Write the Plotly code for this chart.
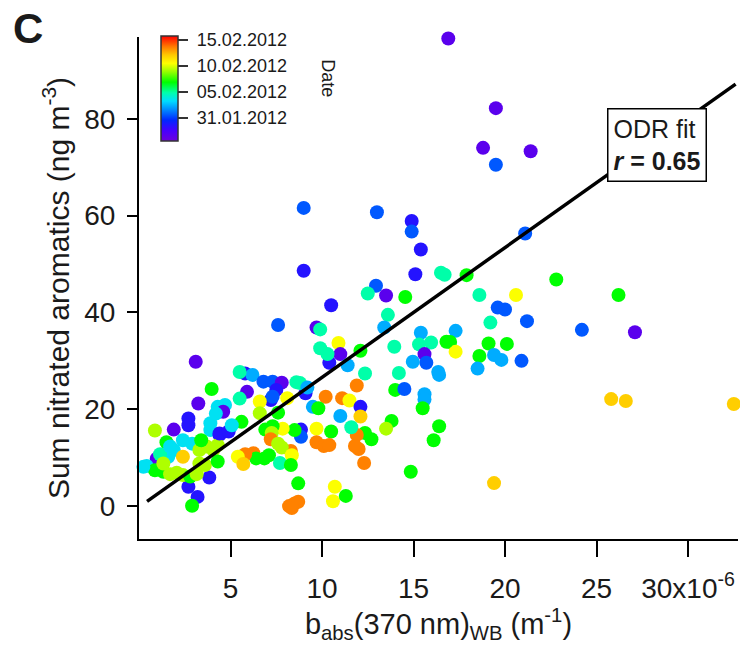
import plotly.graph_objects as go

# ---- data (x in 1e-6 m^-1, y in ng m^-3, date = days since 31.01.2012)
P, DB, B, S, C, T, G, YG, Y, GD, O = -3.4, -1.4, 0.6, 2.3, 3.5, 4.9, 6.9, 9.3, 10.5, 12.0, 13.6

points = [
    (19.5, 82.2, P), (18.8, 74.0, P), (21.4, 73.3, P), (19.5, 70.5, B), (21.1, 56.3, B),
    (17.9, 47.7, G), (22.8, 46.8, G), (18.6, 43.6, T), (20.6, 43.6, Y), (26.2, 43.6, G),
    (19.6, 41.0, B), (20.0, 40.6, B), (19.2, 37.9, T), (21.2, 38.2, B), (17.3, 36.2, S),
    (24.2, 36.4, B), (27.1, 35.9, P), (17.0, 33.9, G), (19.1, 33.6, G), (20.1, 33.5, G),
    (17.3, 31.9, Y), (18.6, 31.0, G), (19.4, 31.2, S), (19.8, 30.2, S), (20.9, 30.0, B),
    (18.5, 28.4, S), (25.8, 22.1, GD), (26.6, 21.7, GD), (32.5, 21.1, GD), (16.9, 96.6, P),
    (9.0, 61.6, B), (13.0, 60.7, B), (14.9, 58.9, DB), (14.9, 56.7, B), (15.4, 53.0, DB),
    (9.0, 48.6, DB), (15.1, 47.9, DB), (16.5, 48.2, T), (16.7, 47.8, T), (12.95, 45.5, B),
    (12.5, 43.9, T), (13.5, 43.5, P), (14.55, 43.2, G), (10.5, 41.5, DB), (13.6, 39.5, T),
    (9.7, 36.9, P), (9.9, 36.5, T), (13.4, 36.9, S), (15.4, 35.8, S), (9.9, 32.6, T),
    (10.9, 33.7, Y), (11.0, 31.4, P), (10.4, 29.6, DB), (12.1, 32.1, G), (10.3, 31.4, T),
    (11.4, 29.1, S), (13.95, 32.9, T), (15.3, 33.4, T), (15.96, 33.8, T), (16.8, 33.95, G),
    (15.6, 31.4, P), (15.7, 29.6, B), (14.96, 29.8, S), (16.35, 27.7, S), (16.4, 27.1, S),
    (12.35, 27.4, T), (14.2, 27.5, T), (11.9, 24.9, O), (14.0, 24.0, G), (14.5, 24.2, B),
    (15.6, 23.1, S), (10.2, 22.6, O), (11.1, 22.3, O), (11.5, 21.8, Y), (9.1, 23.3, DB),
    (8.8, 25.4, T), (15.6, 22.0, S), (15.5, 20.2, G), (12.1, 20.5, DB), (12.1, 18.5, GD),
    (13.8, 17.6, G), (13.5, 16.0, YG), (16.4, 16.5, G), (12.35, 15.1, G), (12.7, 13.8, G),
    (11.9, 14.7, O), (12.0, 11.8, O), (16.1, 13.6, G), (12.3, 8.9, O), (14.85, 7.1, G),
    (5.8, 27.4, DB), (6.2, 27.1, S), (6.8, 25.7, B), (7.3, 25.7, B), (7.8, 25.5, P),
    (8.6, 25.6, T), (9.2, 24.5, S), (7.5, 24.0, DB), (5.9, 23.6, P), (7.2, 21.9, DB),
    (7.3, 22.6, B), (6.6, 21.6, Y), (8.1, 22.3, Y), (9.5, 20.5, S), (9.8, 20.2, G),
    (6.6, 19.2, YG), (7.6, 19.3, G), (11.0, 18.6, S), (11.6, 16.3, T), (9.7, 16.0, Y),
    (10.5, 15.4, G), (8.85, 15.8, DB), (8.85, 14.3, B), (8.5, 15.7, G), (7.85, 16.0, Y),
    (7.3, 16.5, G), (6.9, 15.8, G), (7.25, 15.1, YG), (7.2, 13.8, O), (9.7, 13.2, O),
    (10.1, 12.4, O), (10.4, 12.6, O), (11.8, 12.4, O), (8.3, 11.4, O), (6.25, 10.9, O),
    (6.85, 9.85, G), (7.1, 10.5, G), (7.8, 12.1, YG), (7.6, 12.9, YG), (8.35, 10.5, Y),
    (7.7, 8.9, T), (8.3, 8.5, G), (8.7, 4.7, G), (10.7, 4.0, Y), (10.6, 1.0, Y),
    (11.3, 2.1, G), (8.2, 0.0, O), (8.5, 0.55, O), (8.7, 0.9, O), (8.35, -0.4, O),
    (7.6, 37.4, B), (3.1, 29.8, P), (5.5, 27.7, T), (3.97, 24.2, G), (5.5, 22.2, T),
    (3.24, 21.2, P), (4.3, 20.5, C), (4.7, 20.9, C), (4.6, 19.5, P), (2.7, 18.1, DB),
    (2.7, 16.7, DB), (1.9, 15.8, P), (0.87, 15.6, YG), (1.5, 13.2, G), (3.9, 17.1, C),
    (3.9, 15.7, C), (4.2, 19.1, C), (4.4, 14.7, DB), (5.6, 17.4, G), (6.4, 9.85, G),
    (5.8, 10.7, O), (5.4, 10.2, Y), (3.84, 5.9, DB), (2.7, 4.0, DB), (3.2, 1.9, DB),
    (2.9, 0.06, G), (2.4, 13.6, C), (2.9, 12.9, C), (1.9, 11.6, C), (1.6, 10.2, C),
    (0.97, 9.8, P), (0.42, 8.3, C), (1.15, 10.7, T), (0.87, 7.4, G), (1.33, 7.1, G),
    (2.4, 10.2, GD), (1.7, 6.6, YG), (2.06, 6.9, YG), (2.4, 6.4, YG), (2.8, 6.1, G),
    (3.15, 6.6, YG), (3.3, 8.8, YG), (3.6, 8.5, YG), (3.3, 11.6, YG), (3.7, 12.3, YG),
    (4.06, 11.6, YG), (4.3, 12.6, YG), (3.4, 13.6, G), (4.4, 15.0, DB), (4.9, 15.4, DB),
    (5.07, 16.7, C), (4.3, 9.2, G), (5.7, 8.7, GD), (0.24, 8.1, C), (1.33, 8.8, YG),
    (1.7, 12.3, C), (19.4, 4.75, GD),
]
x_vals = [p[0] for p in points]
y_vals = [p[1] for p in points]
date_days = [p[2] for p in points]

fit_x = [0.44, 32.6]
fit_intercept = -0.2
fit_slope = 2.68
fit_y = [fit_intercept + fit_slope * v for v in fit_x]

x_tickvals = [5, 10, 15, 20, 25, 30]
x_ticktext = ["5", "10", "15", "20", "25", "30x10<sup>-6</sup>"]
y_tickvals = [0, 20, 40, 60, 80]
cb_tickvals = [0, 5, 10, 15]
cb_ticktext = [" 31.01.2012", " 05.02.2012", " 10.02.2012", " 15.02.2012"]

colorscale = [
    [0.0, "rgb(110,0,220)"], [0.1, "rgb(70,0,255)"], [0.2, "rgb(0,40,255)"],
    [0.3, "rgb(0,140,255)"], [0.38, "rgb(0,220,255)"], [0.46, "rgb(0,255,170)"],
    [0.56, "rgb(0,255,0)"], [0.66, "rgb(150,255,0)"], [0.74, "rgb(255,255,0)"],
    [0.82, "rgb(255,200,0)"], [0.9, "rgb(255,120,0)"], [1.0, "rgb(255,0,0)"],
]

FONT = "Liberation Sans, Arial, sans-serif"
TXT = "#1a1a1a"

fig = go.Figure()
fig.add_trace(go.Scatter(
    x=x_vals, y=y_vals, mode="markers", cliponaxis=False, showlegend=False,
    marker=dict(
        size=14, color=date_days, colorscale=colorscale, cmin=-4.4, cmax=15.8,
        line=dict(width=0),
        colorbar=dict(
            x=0.0367, xanchor="left", xpad=0, y=1.002, yanchor="top", ypad=0,
            len=105, lenmode="pixels", thickness=17, thicknessmode="pixels",
            outlinewidth=1.5, outlinecolor="#333",
            tickvals=cb_tickvals, ticktext=cb_ticktext, ticks="outside",
            ticklen=10, tickwidth=1.5, tickcolor="#333",
            tickfont=dict(family=FONT, size=18, color=TXT),
        ),
    ),
))
fig.add_trace(go.Scatter(
    x=fit_x, y=fit_y, mode="lines", showlegend=False,
    line=dict(color="black", width=3.5),
))

fig.update_xaxes(
    range=[0, 32.73], showline=True, linecolor="black", linewidth=2,
    ticks="outside", ticklen=16, tickwidth=1.5, tickcolor="black",
    tickvals=x_tickvals, ticktext=x_ticktext, showgrid=False, zeroline=False,
    tickfont=dict(family=FONT, size=28, color=TXT), ticklabelstandoff=7,
    title=dict(text="b<sub>abs</sub>(370 nm)<sub>WB</sub> (m<sup>-1</sup>)",
               font=dict(family=FONT, size=29, color=TXT), standoff=8),
)
fig.update_yaxes(
    range=[-6.8, 96.9], showline=True, linecolor="black", linewidth=2,
    ticks="outside", ticklen=10, tickwidth=1.5, tickcolor="black",
    tickvals=y_tickvals, showgrid=False, zeroline=False,
    tickfont=dict(family=FONT, size=28, color=TXT), ticklabelstandoff=6,
    title=dict(text="Sum nitrated aromatics (ng m<sup>-3</sup>)",
               font=dict(family=FONT, size=30, color=TXT), standoff=6),
)

fig.add_annotation(
    xref="paper", yref="paper", x=0.864, y=0.784, xanchor="center", yanchor="middle",
    text="ODR fit<br><b><i>r</i> = 0.65</b>", showarrow=False, align="left",
    font=dict(family=FONT, size=25, color=TXT),
    bgcolor="white", bordercolor="black", borderwidth=1.5, borderpad=5,
)
fig.add_annotation(
    xref="paper", yref="paper", x=0.3155, y=0.918, xanchor="center", yanchor="middle",
    text="Date", textangle=90, showarrow=False,
    font=dict(family=FONT, size=18, color=TXT),
)
fig.add_annotation(
    xref="paper", yref="paper", x=-0.185, y=1.016, xanchor="center", yanchor="middle",
    text="<b>C</b>", showarrow=False,
    font=dict(family=FONT, size=42, color=TXT),
)

fig.update_layout(
    width=740, height=646, margin=dict(l=139, r=2, t=37, b=107),
    paper_bgcolor="white", plot_bgcolor="white",
    font=dict(family=FONT, color=TXT),
)

fig.write_html("out.html")
